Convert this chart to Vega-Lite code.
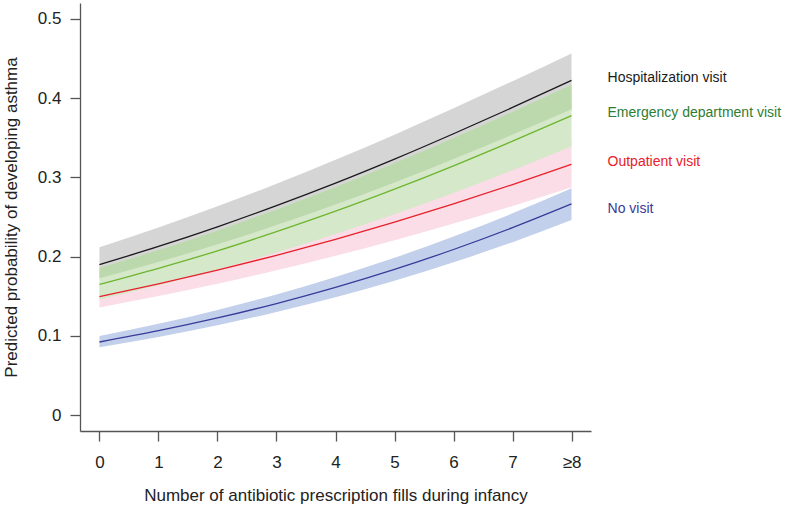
{
  "$schema": "https://vega.github.io/schema/vega-lite/v6.json",
  "width": 511,
  "height": 428,
  "autosize": {"type": "none"},
  "padding": {"left": 80, "top": 3, "right": 197, "bottom": 84},
  "background": "white",
  "config": {
    "view": {"stroke": null},
    "font": "Liberation Sans",
    "axis": {
      "grid": false,
      "domainColor": "#555555",
      "tickColor": "#555555",
      "domainWidth": 1.3,
      "tickWidth": 1.3,
      "tickSize": 10,
      "labelFont": "Liberation Sans",
      "labelFontSize": 17,
      "labelColor": "#222222",
      "titleFont": "Liberation Sans",
      "titleFontSize": 17,
      "titleFontWeight": "normal",
      "titleColor": "#222222"
    }
  },
  "datasets": {
    "curves": [
      {"x": 0, "hosp": 0.1900, "hosp_lo": 0.1726, "hosp_hi": 0.2118, "ed": 0.1650, "ed_lo": 0.1460, "ed_hi": 0.1860, "out": 0.1494, "out_lo": 0.1357, "out_hi": 0.1642, "none": 0.0923, "none_lo": 0.0856, "none_hi": 0.0999},
      {"x": 1, "hosp": 0.2128, "hosp_lo": 0.1932, "hosp_hi": 0.2369, "ed": 0.1853, "ed_lo": 0.1640, "ed_hi": 0.2085, "out": 0.1655, "out_lo": 0.1502, "out_hi": 0.1820, "none": 0.1065, "none_lo": 0.0986, "none_hi": 0.1153},
      {"x": 2, "hosp": 0.2376, "hosp_lo": 0.2156, "hosp_hi": 0.2635, "ed": 0.2073, "ed_lo": 0.1836, "ed_hi": 0.2330, "out": 0.1829, "out_lo": 0.1658, "out_hi": 0.2013, "none": 0.1226, "none_lo": 0.1134, "none_hi": 0.1328},
      {"x": 3, "hosp": 0.2643, "hosp_lo": 0.2398, "hosp_hi": 0.2920, "ed": 0.2315, "ed_lo": 0.2052, "ed_hi": 0.2596, "out": 0.2017, "out_lo": 0.1828, "out_hi": 0.2220, "none": 0.1408, "none_lo": 0.1301, "none_hi": 0.1523},
      {"x": 4, "hosp": 0.2927, "hosp_lo": 0.2658, "hosp_hi": 0.3222, "ed": 0.2573, "ed_lo": 0.2285, "ed_hi": 0.2878, "out": 0.2219, "out_lo": 0.2011, "out_hi": 0.2442, "none": 0.1612, "none_lo": 0.1488, "none_hi": 0.1743},
      {"x": 5, "hosp": 0.3230, "hosp_lo": 0.2935, "hosp_hi": 0.3539, "ed": 0.2851, "ed_lo": 0.2535, "ed_hi": 0.3181, "out": 0.2435, "out_lo": 0.2207, "out_hi": 0.2679, "none": 0.1839, "none_lo": 0.1697, "none_hi": 0.1986},
      {"x": 6, "hosp": 0.3550, "hosp_lo": 0.3231, "hosp_hi": 0.3873, "ed": 0.3146, "ed_lo": 0.2803, "ed_hi": 0.3497, "out": 0.2665, "out_lo": 0.2417, "out_hi": 0.2930, "none": 0.2090, "none_lo": 0.1928, "none_hi": 0.2254},
      {"x": 7, "hosp": 0.3882, "hosp_lo": 0.3540, "hosp_hi": 0.4214, "ed": 0.3457, "ed_lo": 0.3089, "ed_hi": 0.3829, "out": 0.2909, "out_lo": 0.2639, "out_hi": 0.3195, "none": 0.2366, "none_lo": 0.2183, "none_hi": 0.2546},
      {"x": 8, "hosp": 0.4223, "hosp_lo": 0.3861, "hosp_hi": 0.4564, "ed": 0.3780, "ed_lo": 0.3390, "ed_hi": 0.4170, "out": 0.3165, "out_lo": 0.2874, "out_hi": 0.3471, "none": 0.2665, "none_lo": 0.2461, "none_hi": 0.2863}
    ],
    "labels": [
      {"series": "Hospitalization visit", "x": 8, "y": 0.426},
      {"series": "Emergency department visit", "x": 8, "y": 0.381},
      {"series": "Outpatient visit", "x": 8, "y": 0.320},
      {"series": "No visit", "x": 8, "y": 0.260}
    ]
  },
  "data": {"name": "curves"},
  "layer": [
    {
      "mark": {"type": "area", "color": "#d5d5d5", "opacity": 1, "interpolate": "monotone"},
      "encoding": {
        "x": {"field": "x", "type": "quantitative", "scale": {"domain": [-0.33, 8.33], "nice": false, "zero": false},
          "axis": {"values": [0, 1, 2, 3, 4, 5, 6, 7, 8], "format": "d", "labelExpr": "datum.value == 8 ? '≥8' : datum.label", "labelPadding": 13, "titlePadding": 17, "labelFlush": false, "title": "Number of antibiotic prescription fills during infancy"}},
        "y": {"field": "hosp_hi", "type": "quantitative", "scale": {"domain": [-0.02, 0.52], "nice": false, "zero": false},
          "axis": {"values": [0, 0.1, 0.2, 0.3, 0.4, 0.5], "format": ".1~f", "labelPadding": 9, "titlePadding": 17, "labelFlush": false, "title": "Predicted probability of developing asthma"}},
        "y2": {"field": "hosp_lo"}
      }
    },
    {
      "mark": {"type": "area", "color": "#fadde6", "opacity": 1, "interpolate": "monotone"},
      "encoding": {
        "x": {"field": "x", "type": "quantitative"},
        "y": {"field": "out_hi", "type": "quantitative"},
        "y2": {"field": "out_lo"}
      }
    },
    {
      "mark": {"type": "area", "color": "#d6e8ca", "opacity": 1, "interpolate": "monotone"},
      "encoding": {
        "x": {"field": "x", "type": "quantitative"},
        "y": {"field": "ed_hi", "type": "quantitative"},
        "y2": {"field": "ed_lo"}
      }
    },
    {
      "mark": {"type": "area", "color": "#bcd9ae", "opacity": 1, "interpolate": "monotone"},
      "encoding": {
        "x": {"field": "x", "type": "quantitative"},
        "y": {"field": "ed_hi", "type": "quantitative"},
        "y2": {"field": "hosp_lo"}
      }
    },
    {
      "mark": {"type": "area", "color": "#c2d0ec", "opacity": 1, "interpolate": "monotone"},
      "encoding": {
        "x": {"field": "x", "type": "quantitative"},
        "y": {"field": "none_hi", "type": "quantitative"},
        "y2": {"field": "none_lo"}
      }
    },
    {
      "mark": {"type": "line", "strokeWidth": 1.3, "color": "#1a1a1a", "interpolate": "monotone"},
      "encoding": {"x": {"field": "x", "type": "quantitative"}, "y": {"field": "hosp", "type": "quantitative"}}
    },
    {
      "mark": {"type": "line", "strokeWidth": 1.3, "color": "#6db52e", "interpolate": "monotone"},
      "encoding": {"x": {"field": "x", "type": "quantitative"}, "y": {"field": "ed", "type": "quantitative"}}
    },
    {
      "mark": {"type": "line", "strokeWidth": 1.3, "color": "#e8202a", "interpolate": "monotone"},
      "encoding": {"x": {"field": "x", "type": "quantitative"}, "y": {"field": "out", "type": "quantitative"}}
    },
    {
      "mark": {"type": "line", "strokeWidth": 1.3, "color": "#3a3a98", "interpolate": "monotone"},
      "encoding": {"x": {"field": "x", "type": "quantitative"}, "y": {"field": "none", "type": "quantitative"}}
    },
    {
      "data": {"name": "labels"},
      "mark": {"type": "text", "align": "left", "baseline": "middle", "dx": 36, "fontSize": 14, "font": "Liberation Sans"},
      "encoding": {
        "x": {"field": "x", "type": "quantitative"},
        "y": {"field": "y", "type": "quantitative"},
        "text": {"field": "series"},
        "color": {"field": "series", "type": "nominal", "legend": null,
          "scale": {"domain": ["Hospitalization visit", "Emergency department visit", "Outpatient visit", "No visit"],
                    "range": ["#1a1a1a", "#2e7d32", "#e8202a", "#3a3a98"]}}
      }
    }
  ]
}
